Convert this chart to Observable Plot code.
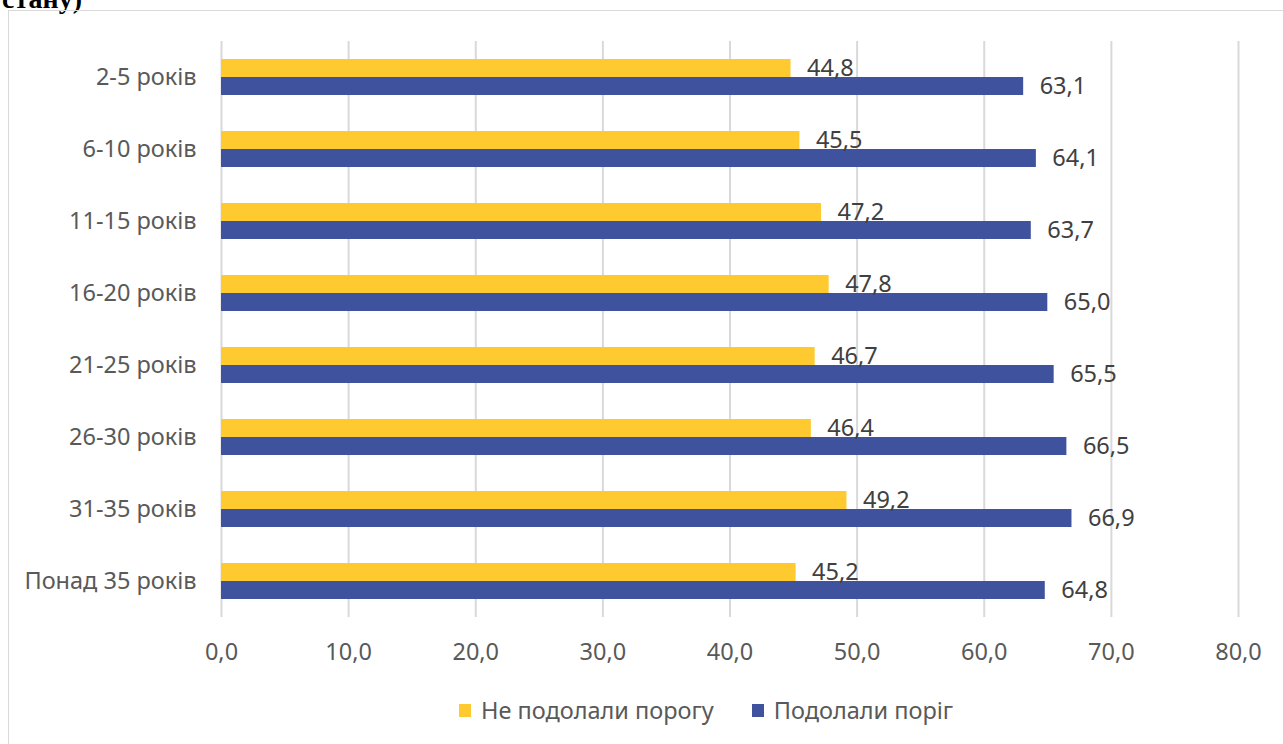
<!DOCTYPE html>
<html>
<head>
<meta charset="utf-8">
<script src="https://cdn.jsdelivr.net/npm/d3@7"></script>
<script src="https://cdn.jsdelivr.net/npm/@observablehq/plot@0.6"></script>
<style>
  html, body { margin: 0; padding: 0; background: #fff; overflow: hidden; }
  body { width: 1283px; height: 744px; position: relative; font-family: "Noto Sans", sans-serif; }
  #title { position: absolute; left: 2px; top: -15px; font-family: "Liberation Serif", serif; font-weight: bold; font-size: 28px; line-height: 28px; color: #000; white-space: nowrap; }
  #frame { position: absolute; left: 8px; top: 10px; width: 1300px; height: 760px; border: 1px solid #d9d9d9; box-sizing: border-box; }
  #chart { position: absolute; left: 0; top: 0; }
  #legend { position: absolute; left: 459px; top: 694px; display: flex; gap: 38px; font-size: 23.5px; color: #595959; white-space: nowrap; }
  .item { display: flex; align-items: center; gap: 10px; }
  .sw { width: 12px; height: 13px; display: inline-block; }
</style>
</head>
<body>
<div id="title">стану)</div>
<div id="frame"></div>
<div id="chart"></div>
<div id="legend"></div>
<script>
const categories = ["2-5 років", "6-10 років", "11-15 років", "16-20 років", "21-25 років", "26-30 років", "31-35 років", "Понад 35 років"];
const series = ["Не подолали порогу", "Подолали поріг"];
const notPassed = [44.8, 45.5, 47.2, 47.8, 46.7, 46.4, 49.2, 45.2];
const passed = [63.1, 64.1, 63.7, 65.0, 65.5, 66.5, 66.9, 64.8];
const xTicks = [0, 10, 20, 30, 40, 50, 60, 70, 80];
const colors = ["#FFCA2F", "#3F529E"];

const data = [];
categories.forEach((c, i) => {
  data.push({category: c, series: series[0], value: notPassed[i]});
  data.push({category: c, series: series[1], value: passed[i]});
});
const fmt = v => v.toFixed(1).replace(".", ",");

const chart = Plot.plot({
  width: 1283,
  height: 680,
  marginLeft: 221,
  marginRight: 45,
  marginTop: 37,
  marginBottom: 60,
  style: {fontFamily: "Noto Sans, sans-serif", fontSize: "23.5px", color: "#595959", background: "transparent"},
  x: {domain: [0, 80], ticks: xTicks, tickFormat: fmt, tickSize: 0, tickPadding: 26, label: null},
  y: {domain: series, paddingInner: 0, paddingOuter: 0.92, axis: null},
  fy: {domain: categories, padding: 0, label: null, tickSize: 0, tickPadding: 25, axis: "left"},
  color: {domain: series, range: colors},
  marks: [
    Plot.ruleX(xTicks, {stroke: "#d9d9d9", strokeWidth: 2}),
    Plot.barX(data, {x: "value", y: "series", fy: "category", fill: "series"}),
    Plot.text(data, {x: "value", y: "series", fy: "category", text: d => fmt(d.value), textAnchor: "start", dx: 16, fill: "#404040", fontSize: 23.5})
  ]
});
document.getElementById("chart").appendChild(chart);

const legend = document.getElementById("legend");
series.forEach((s, i) => {
  const it = document.createElement("div");
  it.className = "item";
  const sw = document.createElement("span");
  sw.className = "sw";
  sw.style.background = colors[i];
  const t = document.createElement("span");
  t.textContent = s;
  it.appendChild(sw);
  it.appendChild(t);
  legend.appendChild(it);
});
</script>
</body>
</html>
